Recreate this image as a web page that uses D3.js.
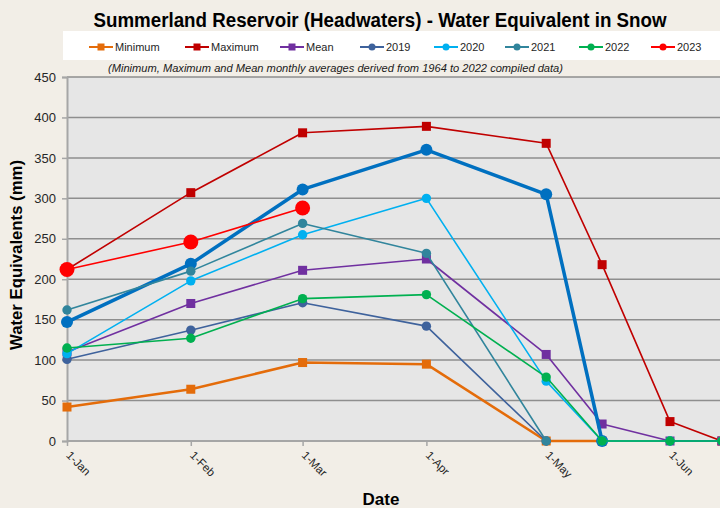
<!DOCTYPE html>
<html>
<head>
<meta charset="utf-8">
<script src="https://cdn.jsdelivr.net/npm/d3@7"></script>
<style>
  body { margin: 0; background: #f2eee7; }
  svg { display: block; font-family: "Liberation Sans", Arial, sans-serif; }
</style>
</head>
<body>
<svg id="chart" width="720" height="508"></svg>
<script>
// Data
var dates = ["2023-01-01", "2023-02-01", "2023-03-01", "2023-04-01", "2023-05-01", "2023-05-15", "2023-06-01", "2023-06-14"];
var minimum = [42, 64, 97, 95, 0, 0, null, null];
var maximum = [212, 307, 381, 389, 368, 218, 24, 0];
var mean = [110, 170, 211, 225, 107, 21, 0, 0];
var blueYear = [147, 219, 311, 360, 305, 0, null, null]; // thick blue line, no legend entry
var y2019 = [101, 137, 171, 142, 0, null, null, null];
var y2020 = [108, 198, 255, 300, 74, 0, 0, 0];
var y2021 = [162, 210, 269, 232, 0, null, null, null];
var y2022 = [115, 127, 176, 181, 79, 0, 0, 0];
var y2023 = [212, 246, 288, null, null, null, null, null];
var tickDates = ["2023-01-01", "2023-02-01", "2023-03-01", "2023-04-01", "2023-05-01", "2023-06-01"];
var yTicks = [0, 50, 100, 150, 200, 250, 300, 350, 400, 450];

var parse = d3.timeParse("%Y-%m-%d");
var svg = d3.select("#chart");
var plot = { left: 67, right: 720, top: 77, bottom: 441 };

// Series list (draw order)
var series = [
  { name: "Minimum", values: minimum, color: "#e46c0a", width: 2.5, shape: "square", size: 9, legend: true },
  { name: "Maximum", values: maximum, color: "#c00000", width: 1.6, shape: "square", size: 9, legend: true },
  { name: "Mean", values: mean, color: "#7030a0", width: 1.6, shape: "square", size: 9, legend: true },
  { name: "blue", values: blueYear, color: "#0070c0", width: 3.5, shape: "circle", size: 6, legend: false },
  { name: "2019", values: y2019, color: "#3e629c", width: 1.6, shape: "circle", size: 4.7, legend: true },
  { name: "2020", values: y2020, color: "#00b0f0", width: 1.6, shape: "circle", size: 4.7, legend: true },
  { name: "2021", values: y2021, color: "#31859c", width: 1.6, shape: "circle", size: 4.7, legend: true },
  { name: "2022", values: y2022, color: "#00b050", width: 1.6, shape: "circle", size: 4.7, legend: true },
  { name: "2023", values: y2023, color: "#ff0000", width: 1.6, shape: "circle", size: 7.5, legend: true }
];

// Scales
var xScale = d3.scaleTime()
               .domain([parse("2023-01-01"), parse("2023-06-01")])
               .range([plot.left, 670]);
var yScale = d3.scaleLinear()
               .domain([0, 450])
               .range([plot.bottom, plot.top]);

// Plot background
svg.append("rect")
   .attr("x", plot.left)
   .attr("y", plot.top)
   .attr("width", plot.right - plot.left)
   .attr("height", plot.bottom - plot.top)
   .style("fill", "#e6e6e6");

// Gridlines
svg.append("g")
   .selectAll("line")
   .data(yTicks.filter(function(d) { return d > 0; }))
   .enter()
   .append("line")
   .attr("x1", plot.left)
   .attr("x2", plot.right)
   .attr("y1", function(d) { return yScale(d); })
   .attr("y2", function(d) { return yScale(d); })
   .style("stroke", "#8e8e8e")
   .style("stroke-width", 1.5);

// Y axis
var yAxis = svg.append("g")
   .attr("transform", "translate(" + plot.left + ",0)")
   .call(d3.axisLeft(yScale).tickValues(yTicks).tickSize(5).tickPadding(6));
yAxis.select(".domain").style("stroke", "#a6a6a6").style("stroke-width", 2);
yAxis.selectAll(".tick line").style("stroke", "#a6a6a6").style("stroke-width", 1.5);
yAxis.selectAll("text").style("font-size", "13px").style("fill", "#262626");

// X axis
var xAxis = svg.append("g")
   .attr("transform", "translate(0," + plot.bottom + ")")
   .call(d3.axisBottom(xScale).tickValues(tickDates.map(parse)).tickSize(5).tickFormat(d3.timeFormat("1-%b")));
xAxis.select(".domain").attr("d", "M" + plot.left + ",0H" + plot.right).style("stroke", "#a6a6a6").style("stroke-width", 2);
xAxis.selectAll(".tick line").style("stroke", "#a6a6a6").style("stroke-width", 1.5);
xAxis.selectAll("text")
     .attr("y", 0)
     .attr("dy", 0)
     .attr("transform", "translate(-2,15) rotate(45)")
     .style("text-anchor", "start")
     .style("font-size", "11.5px")
     .style("fill", "#262626");

// Lines and markers
var lineGen = d3.line()
                .defined(function(d) { return d.v !== null; })
                .x(function(d) { return xScale(d.date); })
                .y(function(d) { return yScale(d.v); });

var clip = svg.append("clipPath").attr("id", "clip")
              .append("rect").attr("x", 0).attr("y", 0).attr("width", plot.right).attr("height", 508);

var seriesGroup = svg.append("g").attr("clip-path", "url(#clip)");
series.forEach(function(s) {
  var pts = s.values.map(function(v, i) { return { date: parse(dates[i]), v: v }; });
  var g = seriesGroup.append("g");
  g.append("path")
   .datum(pts)
   .attr("d", lineGen)
   .style("fill", "none")
   .style("stroke", s.color)
   .style("stroke-width", s.width)
   .style("stroke-linejoin", "round");
  var valid = pts.filter(function(d) { return d.v !== null; });
  if (s.shape === "square") {
    g.selectAll("rect")
     .data(valid)
     .enter()
     .append("rect")
     .attr("x", function(d) { return xScale(d.date) - s.size / 2; })
     .attr("y", function(d) { return yScale(d.v) - s.size / 2; })
     .attr("width", s.size)
     .attr("height", s.size)
     .style("fill", s.color);
  } else {
    g.selectAll("circle")
     .data(valid)
     .enter()
     .append("circle")
     .attr("cx", function(d) { return xScale(d.date); })
     .attr("cy", function(d) { return yScale(d.v); })
     .attr("r", s.size)
     .style("fill", s.color);
  }
});

// Title
svg.append("text")
   .text("Summerland Reservoir (Headwaters) - Water Equivalent in Snow")
   .attr("x", 380)
   .attr("y", 27)
   .attr("textLength", 573)
   .attr("lengthAdjust", "spacingAndGlyphs")
   .style("text-anchor", "middle")
   .style("font-size", "20px")
   .style("font-weight", "bold")
   .style("fill", "#000");

// Legend box
svg.append("rect")
   .attr("x", 63)
   .attr("y", 31)
   .attr("width", 657)
   .attr("height", 29)
   .style("fill", "#fff");

var legendX = [89, 185, 280, 360, 434, 505, 579, 651];
var legendSeries = series.filter(function(s) { return s.legend; });
var legend = svg.selectAll(".legendItem")
                .data(legendSeries)
                .enter()
                .append("g")
                .attr("class", "legendItem")
                .attr("transform", function(d, i) { return "translate(" + legendX[i] + ",47)"; });
legend.append("line")
      .attr("x1", 0)
      .attr("x2", 24)
      .style("stroke", function(d) { return d.color; })
      .style("stroke-width", 2);
legend.each(function(d) {
  var g = d3.select(this);
  if (d.shape === "square") {
    g.append("rect").attr("x", 8.5).attr("y", -3.5).attr("width", 7).attr("height", 7).style("fill", d.color);
  } else {
    g.append("circle").attr("cx", 12).attr("cy", 0).attr("r", 3.5).style("fill", d.color);
  }
});
legend.append("text")
      .text(function(d) { return d.name; })
      .attr("x", 26)
      .attr("dy", "0.35em")
      .style("font-size", "11px")
      .style("fill", "#262626");

// Subtitle
svg.append("text")
   .text("(Minimum, Maximum and Mean monthly averages derived from 1964 to 2022 compiled data)")
   .attr("x", 108)
   .attr("y", 72)
   .attr("textLength", 455)
   .attr("lengthAdjust", "spacingAndGlyphs")
   .style("font-size", "11px")
   .style("font-style", "italic")
   .style("fill", "#1a1a1a");

// Axis titles
svg.append("text")
   .text("Water Equivalents (mm)")
   .attr("transform", "translate(22,255) rotate(-90)")
   .attr("textLength", 190)
   .attr("lengthAdjust", "spacingAndGlyphs")
   .style("text-anchor", "middle")
   .style("font-size", "17px")
   .style("font-weight", "bold")
   .style("fill", "#000");
svg.append("text")
   .text("Date")
   .attr("x", 381)
   .attr("y", 505)
   .style("text-anchor", "middle")
   .style("font-size", "17px")
   .style("font-weight", "bold")
   .style("fill", "#000");
</script>
</body>
</html>
